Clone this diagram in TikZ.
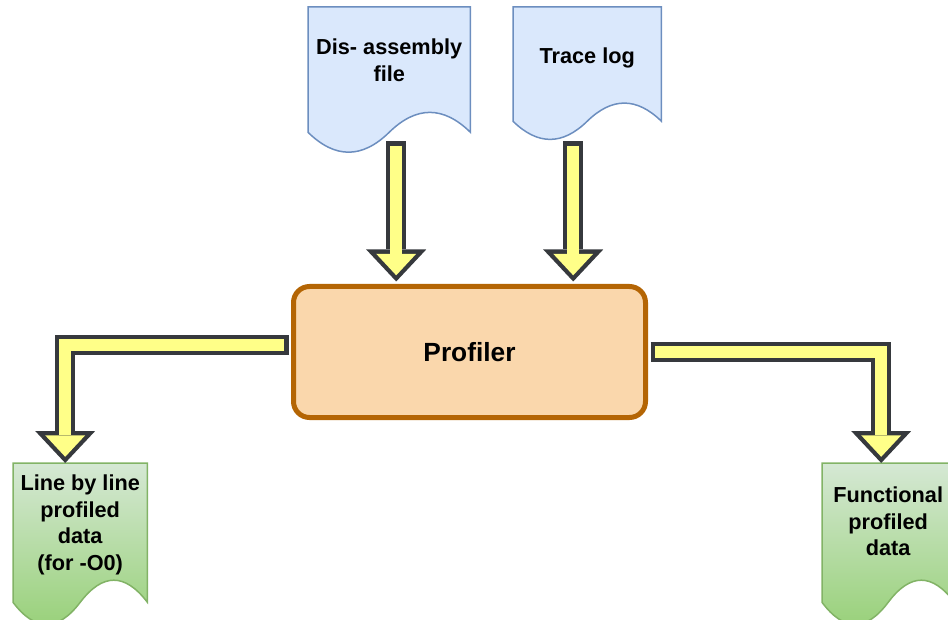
\documentclass[tikz,border=0pt]{standalone}
\usepackage{fontspec}
\setmainfont{Liberation Sans}
\usetikzlibrary{arrows.meta, calc, positioning}

\definecolor{docblue}{HTML}{DAE8FC}
\definecolor{docblueline}{HTML}{6C8EBF}
\definecolor{docgreentop}{HTML}{D5E8D4}
\definecolor{docgreenbot}{HTML}{97D077}
\definecolor{docgreenline}{HTML}{82B366}
\definecolor{profill}{HTML}{FAD7AC}
\definecolor{proline}{HTML}{B46504}
\definecolor{flexfill}{HTML}{FFFF88}
\definecolor{flexline}{HTML}{36393D}

% wavy document outline round a node
\newcommand{\docoutline}[2]{%
  \path[#1] let \p1=(#2.north west), \p2=(#2.south east),
      \n1={\x2-\x1}, \n2={\y2-\y1} in
    (\x1,\y1) -- (\x2,\y1) -- (\x2,{\y1+0.85*\n2})
    .. controls ({\x1+0.8333*\n1},{\y1+0.67*\n2}) and ({\x1+0.6667*\n1},{\y1+0.67*\n2}) .. ({\x1+0.5*\n1},{\y1+0.85*\n2})
    .. controls ({\x1+0.3333*\n1},{\y1+1.03*\n2}) and ({\x1+0.1667*\n1},{\y1+1.03*\n2}) .. (\x1,{\y1+0.85*\n2})
    -- cycle;}

\begin{document}
\begin{tikzpicture}[x=1pt, y=-1pt,
  bluedoc/.style={fill=docblue, draw=docblueline, line width=1.5pt},
  greendoc/.style={top color=docgreentop, bottom color=docgreenbot, draw=docgreenline, line width=1.5pt},
  docbox/.style={inner sep=0pt, anchor=north west},
  doctext/.style={align=center, inner sep=0pt, font=\fontsize{21.7}{26.5}\selectfont\bfseries},
  process/.style={draw=proline, fill=profill, line width=5pt, rounded corners=16pt,
    minimum width=352pt, minimum height=131pt, inner sep=0pt,
    font=\fontsize{26.3}{30}\selectfont\bfseries},
  flex/.style={draw=flexfill, line width=11.5pt, line join=miter,
    shorten <=4.5pt, shorten >=6.2pt,
    -{Triangle[width=40pt, length=21.5pt, line width=0pt]},
    preaction={draw=flexline, line width=20pt, shorten <=0pt, shorten >=0pt,
      -{Triangle[width=60pt, length=32pt, line width=0pt]}}}]

  \useasboundingbox (0,0) rectangle (948,620);
  \clip (0,0) rectangle (948,620);

% the documents
  \node[docbox, minimum width=162pt, minimum height=147pt]   (disasm)   at (308,7)   {};
  \node[docbox, minimum width=148pt, minimum height=134pt]   (tracelog) at (513,7)   {};
  \node[docbox, minimum width=134pt, minimum height=163.5pt] (linedata) at (13,463)  {};
  \node[docbox, minimum width=132pt, minimum height=163.5pt] (funcdata) at (822,463) {};

  \docoutline{bluedoc}{disasm}
  \docoutline{bluedoc}{tracelog}
  \docoutline{greendoc}{linedata}
  \docoutline{greendoc}{funcdata}

  \node[doctext, below=32pt of disasm.north]   (disasmtext)   {Dis- assembly\\file};
  \node[doctext, below=41pt of tracelog.north] (tracelogtext) {Trace log};
  \node[doctext, below=12pt of linedata.north] (linedatatext) {Line by line\\profiled\\data\\(for -O0)};
  \node[doctext, below=24pt of funcdata.north] (funcdatatext) {Functional\\profiled\\data};

% the profiler
  \node[process] (profiler) at (469.5,352) {Profiler};

% the flow arrows
  \coordinate (disasmout) at ([xshift=7pt,yshift=13pt]disasm.south);
  \coordinate (traceout)  at ([xshift=-14pt]tracelog.south);
  \coordinate (protop)    at ([yshift=2.5pt]profiler.north);
  \coordinate (proleft)   at ([xshift=-2.5pt,yshift=7pt]profiler.west);
  \coordinate (proright)  at ([xshift=2.5pt]profiler.east);

  \draw[flex] (disasmout) -- (disasmout |- protop);
  \draw[flex] (traceout) -- (traceout |- protop);
  \draw[flex] (proleft) -| ([xshift=-15pt]linedata.north);
  \draw[flex] (proright) -| ([xshift=-7pt]funcdata.north);

\end{tikzpicture}
\end{document}
